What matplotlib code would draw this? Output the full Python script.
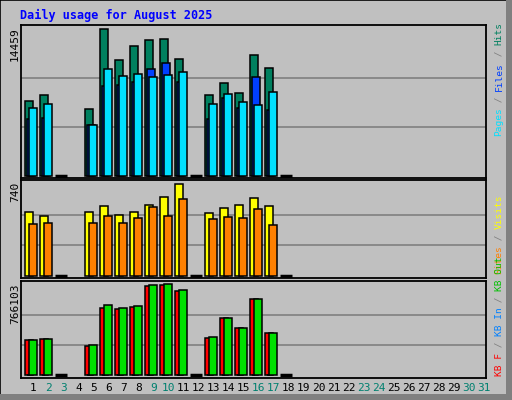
import matplotlib
matplotlib.use("Agg")
import matplotlib.pyplot as plt
from matplotlib.patches import Rectangle

days = list(range(1, 32))
hits  = [7377, 7967, 0, None, 6590, 14459, 11410, 12787, 13377, 13475, 11508, 0, 7967, 9147, 8164, 11901, 10623, 0] + [None]*13
files = [5607, 5705, 0, None, 5016, 8852, 8951, 9246, 10524, 11115, 9246, 0, 5607, 7672, 6688, 9738, 6492, 0] + [None]*13
pages = [6688, 7082, 0, None, 5016, 10524, 9836, 10033, 9738, 9934, 10229, 0, 7082, 8066, 7279, 6984, 8262, 0] + [None]*13
visits = [515, 483, 0, None, 515, 563, 491, 515, 571, 635, 740, 0, 507, 547, 571, 627, 563, 0] + [None]*13
sites  = [418, 426, 0, None, 426, 483, 426, 466, 555, 483, 619, 0, 458, 475, 466, 539, 410, 0] + [None]*13
kbf  = [292926, 301376, 0, None, 242228, 563320, 554870, 571770, 752032, 757665, 706967, 0, 309826, 478822, 394324, 639368, 352075, 0] + [None]*13
kbin = [292926, 301376, 0, None, 250677, 588669, 563320, 580220, 757665, 766103, 715416, 0, 318276, 478822, 394324, 639368, 352075, 0] + [None]*13
kbout = [2000, 2000, 0, None, 2000, 2000, 2000, 2500, 2000, 2000, 2000, 0, 2000, 2000, 2000, 2000, 2000, 0] + [None]*13
weekend = [2, 3, 9, 10, 16, 17, 23, 24, 30, 31]

W, H = 512, 400
BG = "#C0C0C0"
fig = plt.figure(figsize=(W/100, H/100), dpi=100, facecolor=BG)
MONO = "DejaVu Sans Mono"

# 3D border
fig.patches.append(Rectangle((0, 0), 1, 1, transform=fig.transFigure, fc="none", ec="black", lw=1.2))
fig.patches.append(Rectangle((0, 0), 1, 6/H, transform=fig.transFigure, fc="#808080", ec="none"))
fig.patches.append(Rectangle((1-6/W, 0), 6/W, 1, transform=fig.transFigure, fc="#808080", ec="none"))

X0, X1 = 21, 486
def mkax(top, bot, base, maxpx, vmax):
    ax = fig.add_axes([X0/W, 1-bot/H, (X1-X0)/W, (bot-top)/H])
    ax.set_facecolor(BG)
    span = base - maxpx
    ax.set_ylim(-(bot-base)/span*vmax, (base-top)/span*vmax)
    ax.set_xlim(X0, X1)
    for f in (1/3, 2/3):
        ax.axhline(vmax*f, color="#808080", lw=1.2, zorder=0)
    ax.set_xticks([]); ax.set_yticks([])
    for s in ax.spines.values():
        s.set_linewidth(1.3)
    return ax, vmax

def left(d):
    return 25 + 15*(d-1)

def draw(ax, vals, off, width, color, zero=False):
    for d, v in zip(days, vals):
        if v is None:
            continue
        if v == 0:
            if zero:
                ax.plot([left(d), left(d)+12], [0, 0], color="black", lw=2.5, solid_capstyle="butt", zorder=5)
            continue
        ax.bar(left(d)+off, v, width=width, align="edge", color=color, ec="black", lw=1.1, zorder=3)

ax1, m1 = mkax(25, 178, 176, 29, 14459)
draw(ax1, hits, 0, 8, "#00805F", zero=True)
draw(ax1, files, 2, 8, "#0040FF")
draw(ax1, pages, 4, 8, "#00E0FF")

ax2, m2 = mkax(180, 278, 276, 184, 740)
draw(ax2, visits, 0, 8, "#FFFF00", zero=True)
draw(ax2, sites, 4, 8, "#FF8000")

ax3, m3 = mkax(281, 378, 375, 284.3, 766103)
draw(ax3, kbf, 0, 8, "#FF0000", zero=True)
draw(ax3, kbin, 4, 8, "#00E000")
draw(ax3, kbout, 2, 3, "#0080FF")

# title
fig.text(20/W, 1-15/H, "Daily usage for August 2025", color="#0000FF", fontsize=8.5,
         fontweight="bold", family=MONO, va="center", ha="left")

# left max labels
for top, txt in [(27, "14459"), (182, "740"), (283, "766103")]:
    fig.text(15/W, 1-top/H, txt, rotation=90, fontsize=8, family=MONO, va="top", ha="center")

# right legends
FS = 6.8
adv = 0.602*FS*100/72
def vlabel(start_px, parts):
    y = start_px
    for txt, col in parts:
        fig.text(499/W, 1-y/H, txt, rotation=90, fontsize=FS, family=MONO, color=col,
                 va="bottom", ha="center")
        y -= adv*len(txt)
vlabel(136, [("Pages", "#00E0FF"), (" / ", "#808080"), ("Files", "#0040FF"), (" / ", "#808080"), ("Hits", "#00805F")])
vlabel(274, [("Sites", "#FF8000"), (" / ", "#808080"), ("Visits", "#FFFF00")])
vlabel(376, [("KB F", "#FF0000"), (" / ", "#808080"), ("KB In", "#0080FF"), (" / ", "#808080"), ("KB Out", "#00C000")])

# day labels
for d in days:
    fig.text((left(d)+8.5)/W, 1-388/H, str(d), fontsize=8, family=MONO, ha="center", va="center",
             color="#00806F" if d in weekend else "black")

fig.savefig("out.png", dpi=100, facecolor=BG)
